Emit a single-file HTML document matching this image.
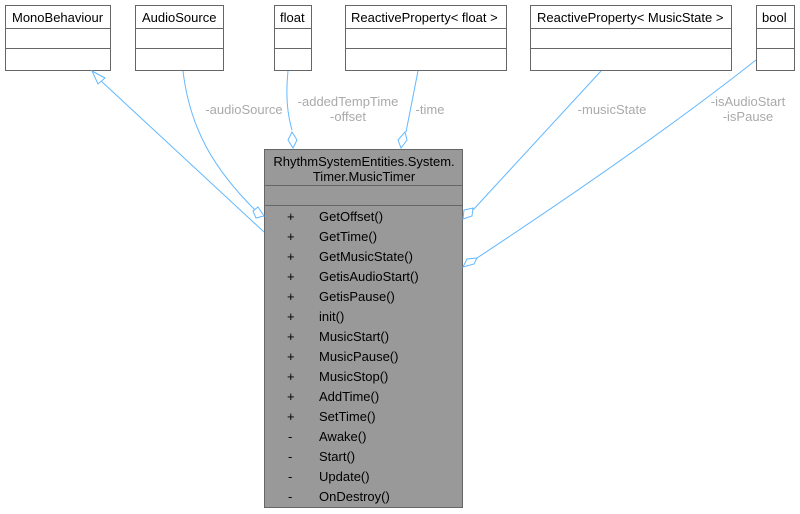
<!DOCTYPE html>
<html><head><style>body{margin:0;background:#fff}svg{display:block}text{font-family:"Liberation Sans",sans-serif;font-size:13px}</style></head><body>
<svg width="800" height="514" viewBox="0 0 800 514">
<g fill="#fff" stroke="#666" stroke-width="1">
<rect x="5.5" y="5.5" width="105" height="65"/><line x1="5" y1="28.5" x2="111" y2="28.5"/><line x1="5" y1="48.5" x2="111" y2="48.5"/>
<rect x="135.5" y="5.5" width="88" height="65"/><line x1="135" y1="28.5" x2="224" y2="28.5"/><line x1="135" y1="48.5" x2="224" y2="48.5"/>
<rect x="274.5" y="5.5" width="37" height="65"/><line x1="274" y1="28.5" x2="312" y2="28.5"/><line x1="274" y1="48.5" x2="312" y2="48.5"/>
<rect x="345.5" y="5.5" width="161" height="65"/><line x1="345" y1="28.5" x2="507" y2="28.5"/><line x1="345" y1="48.5" x2="507" y2="48.5"/>
<rect x="530.5" y="5.5" width="201" height="65"/><line x1="530" y1="28.5" x2="732" y2="28.5"/><line x1="530" y1="48.5" x2="732" y2="48.5"/>
<rect x="756.5" y="5.5" width="38" height="65"/><line x1="756" y1="28.5" x2="795" y2="28.5"/><line x1="756" y1="48.5" x2="795" y2="48.5"/>
</g>
<g fill="#000">
<text x="12" y="22">MonoBehaviour</text><text x="142" y="22">AudioSource</text><text x="280" y="22">float</text>
<text x="351" y="22">ReactiveProperty&lt; float &gt;</text><text x="537" y="22">ReactiveProperty&lt; MusicState &gt;</text><text x="762" y="22">bool</text>
</g>
<rect x="264.5" y="149.5" width="198" height="358" fill="#999" stroke="#666"/>
<line x1="264" y1="185.5" x2="463" y2="185.5" stroke="#666"/><line x1="264" y1="205.5" x2="463" y2="205.5" stroke="#666"/>
<text x="364" y="166" text-anchor="middle">RhythmSystemEntities.System.</text>
<text x="364" y="181" text-anchor="middle">Timer.MusicTimer</text>
<g fill="#000">
<text x="287" y="221">+</text><text x="319" y="221">GetOffset()</text>
<text x="287" y="241">+</text><text x="319" y="241">GetTime()</text>
<text x="287" y="261">+</text><text x="319" y="261">GetMusicState()</text>
<text x="287" y="281">+</text><text x="319" y="281">GetisAudioStart()</text>
<text x="287" y="301">+</text><text x="319" y="301">GetisPause()</text>
<text x="287" y="321">+</text><text x="319" y="321">init()</text>
<text x="287" y="341">+</text><text x="319" y="341">MusicStart()</text>
<text x="287" y="361">+</text><text x="319" y="361">MusicPause()</text>
<text x="287" y="381">+</text><text x="319" y="381">MusicStop()</text>
<text x="287" y="401">+</text><text x="319" y="401">AddTime()</text>
<text x="287" y="421">+</text><text x="319" y="421">SetTime()</text>
<text x="288" y="441">-</text><text x="319" y="441">Awake()</text>
<text x="288" y="461">-</text><text x="319" y="461">Start()</text>
<text x="288" y="481">-</text><text x="319" y="481">Update()</text>
<text x="288" y="501">-</text><text x="319" y="501">OnDestroy()</text>
</g>
<g fill="none" stroke="#63b8ff" stroke-width="1">
<line x1="264" y1="232" x2="100" y2="80"/>
<polygon points="92,71 105,78 98,84" fill="#fff"/>
<path d="M183,71 C190,130 215,170 255,210"/>
<polygon points="264,216 256,218 253,211 258,207" fill="#fff"/>
<path d="M288,71 C286,90 286,110 292,130"/>
<polygon points="293,148 288,140 292,132 297,140" fill="#fff"/>
<line x1="418" y1="71" x2="406" y2="132"/>
<polygon points="401,148 398,140 405,132 407,140" fill="#fff"/>
<line x1="601" y1="71" x2="473" y2="210"/>
<polygon points="463,219 464,210 473,208 472,216" fill="#fff"/>
<path d="M756,60 C680,120 580,190 477,258"/>
<polygon points="463,267 467,259 477,258 474,264" fill="#fff"/>
</g>
<g fill="#aaa" text-anchor="middle">
<text x="244" y="114">-audioSource</text>
<text x="348" y="106">-addedTempTime</text><text x="348" y="121">-offset</text>
<text x="430" y="114">-time</text>
<text x="612" y="114">-musicState</text>
<text x="748" y="106">-isAudioStart</text><text x="748" y="121">-isPause</text>
</g>
</svg>
</body></html>
